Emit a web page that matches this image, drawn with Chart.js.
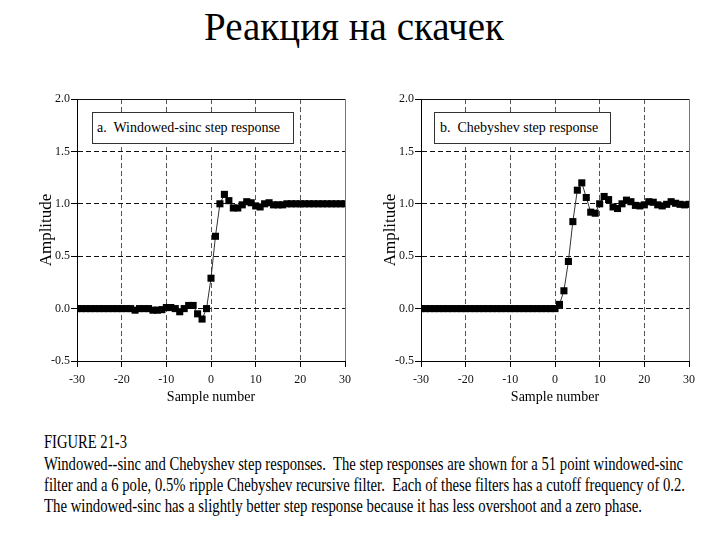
<!DOCTYPE html>
<html>
<head>
<meta charset="utf-8">
<script src="https://cdn.jsdelivr.net/npm/chart.js@4/dist/chart.umd.min.js"></script>
<style>
html, body { margin:0; padding:0; background:#fff; width:720px; height:540px; overflow:hidden; position:relative;
  font-family:"Liberation Serif","Times New Roman",serif; color:#000; }
#title { position:absolute; left:0; width:708px; top:7px; text-align:center; font-size:39px; line-height:39px; white-space:nowrap; }
.cv { position:absolute; top:60px; }
#c1 { left:0; }
#c2 { left:344px; }
.lbl { position:absolute; background:#fff; border:1px solid #333; box-sizing:border-box; font-size:14px; white-space:pre;
  font-family:"Liberation Serif","Times New Roman",serif;
  display:flex; align-items:center; padding-left:4px; top:112px; height:32px; }
#lblA { left:92px; width:202px; }
#lblB { left:434px; width:177px; padding-left:5px; }
.cap { position:absolute; left:44px; font-size:18px; line-height:18px; white-space:pre; transform-origin:0 0;
  font-family:"Liberation Serif","Times New Roman",serif; }
</style>
</head>
<body>
<div id="title">Реакция на скачек</div>
<canvas id="c1" class="cv" width="360" height="360"></canvas>
<canvas id="c2" class="cv" width="360" height="360"></canvas>
<div id="lblA" class="lbl">a.  Windowed-sinc step response</div>
<div id="lblB" class="lbl">b.  Chebyshev step response</div>
<div class="cap" style="top:433px" data-w="83">FIGURE 21-3</div>
<div class="cap" style="top:455px" data-w="639">Windowed--sinc and Chebyshev step responses.  The step responses are shown for a 51 point windowed-sinc</div>
<div class="cap" style="top:476px" data-w="641">filter and a 6 pole, 0.5% ripple Chebyshev recursive filter.  Each of these filters has a cutoff frequency of 0.2.</div>
<div class="cap" style="top:497px" data-w="598">The windowed-sinc has a slightly better step response because it has less overshoot and a zero phase.</div>
<script>
// ---- data ----
const sampleNumbers = [-30,-29,-28,-27,-26,-25,-24,-23,-22,-21,-20,-19,-18,-17,-16,-15,-14,-13,-12,-11,
  -10,-9,-8,-7,-6,-5,-4,-3,-2,-1,0,1,2,3,4,5,6,7,8,9,10,11,12,13,14,15,16,17,18,19,20,
  21,22,23,24,25,26,27,28,29,30];

const windowedSincStep = [0,0,0,0,0,0,0,0,0,0,0,0,0,-0.015,0,0,0,-0.015,-0.015,-0.01,
  0.01,0.01,0.0,-0.03,0.0,0.03,0.03,-0.05,-0.10,0.0,
  0.29,0.69,1.0,1.09,1.03,0.96,0.96,0.99,1.02,1.01,
  0.98,0.97,1.0,1.01,0.99,0.99,0.99,1.0,1.0,1.0,
  1.0,1.0,1.0,1.0,1.0,1.0,1.0,1.0,1.0,1.0,1.0];

const chebyshevStep = [0,0,0,0,0,0,0,0,0,0,0,0,0,0,0,0,0,0,0,0,
  0,0,0,0,0,0,0,0,0,0,0,
  0.04,0.17,0.45,0.83,1.13,1.20,1.06,0.92,0.91,1.0,
  1.07,1.04,0.97,0.955,1.0,1.035,1.02,0.985,0.98,0.99,
  1.02,1.015,0.99,0.98,0.995,1.02,1.005,0.995,0.99,0.995];

const xTickValues = [-30,-20,-10,0,10,20,30];
const yTickValues = [-0.5,0.0,0.5,1.0,1.5,2.0];
const xAxisTitle = 'Sample number';
const yAxisTitle = 'Amplitude';

// ---- chart ----
const SERIF = '"Liberation Serif","Times New Roman",serif';

function toPoints(xs, ys) { return xs.map((x, i) => ({x: x, y: ys[i]})); }

function makeChart(id, values) {
  const ctx = document.getElementById(id).getContext('2d');
  return new Chart(ctx, {
    type: 'line',
    data: {
      datasets: [{
        data: toPoints(sampleNumbers, values),
        borderColor: '#333',
        borderWidth: 1,
        pointStyle: 'rect',
        pointRadius: 5,
        pointBackgroundColor: '#000',
        pointBorderWidth: 0,
        tension: 0,
        fill: false
      }]
    },
    options: {
      responsive: false,
      animation: false,
      devicePixelRatio: 1,
      layout: { padding: { top: 39, right: 15, left: 0, bottom: 0 } },
      plugins: { legend: { display: false }, tooltip: { enabled: false }, title: { display: false } },
      scales: {
        x: {
          type: 'linear', min: -30, max: 30,
          afterBuildTicks: s => { s.ticks = xTickValues.map(v => ({ value: v })); },
          afterFit: s => { s.height = 59; },
          ticks: { font: { family: SERIF, size: 12 }, color: '#111', padding: 6, maxRotation: 0, autoSkip: false,
                   callback: v => String(v) },
          grid: {
            color: c => (c.tick && c.tick.value === -30) ? 'rgba(0,0,0,0)' : (c.tick && c.tick.value === 30 ? '#777' : '#555'),
            lineWidth: 1, tickLength: 6, tickColor: '#000', tickWidth: 1, tickBorderDash: []
          },
          border: { display: true, color: '#000', width: 1,
                    dash: c => (c.tick && c.tick.value !== 30) ? [5, 3] : [] },
          title: { display: true, text: xAxisTitle, font: { family: SERIF, size: 14 }, color: '#000',
                   padding: { top: 0, bottom: 14 } }
        },
        y: {
          type: 'linear', min: -0.5, max: 2.0,
          afterBuildTicks: s => { s.ticks = yTickValues.map(v => ({ value: v })); },
          afterFit: s => { s.width = 77; },
          ticks: { font: { family: SERIF, size: 12 }, color: '#111', padding: 1,
                   callback: v => Number(v).toFixed(1) },
          grid: {
            color: c => (c.tick && c.tick.value === -0.5) ? 'rgba(0,0,0,0)' : '#111',
            lineWidth: 1, tickLength: 6, tickColor: '#000', tickWidth: 1, tickBorderDash: []
          },
          border: { display: true, color: '#000', width: 1,
                    dash: c => (c.tick && c.tick.value !== 2) ? [5, 3] : [] },
          title: { display: true, text: yAxisTitle, font: { family: SERIF, size: 17 }, color: '#000',
                   padding: { top: 36, bottom: 0 } }
        }
      }
    }
  });
}

makeChart('c1', windowedSincStep);
makeChart('c2', chebyshevStep);

// fit caption lines to their measured widths in the reference
document.querySelectorAll('.cap').forEach(el => {
  const w = el.getBoundingClientRect().width;
  const target = parseFloat(el.dataset.w);
  el.style.transform = 'scaleX(' + (target / w) + ')';
});
</script>
</body>
</html>
